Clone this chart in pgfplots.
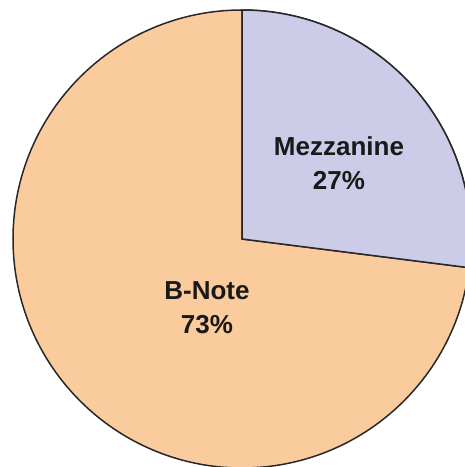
\documentclass[border=0pt]{standalone}
\usepackage{pgfplots}
\usepackage{pgfplotstable}
\pgfplotsset{compat=1.18}
\usepackage{fontspec}
\setmainfont{Liberation Sans}
\definecolor{mezz}{RGB}{204,204,232}
\definecolor{bnote}{RGB}{250,203,156}
\definecolor{edge}{RGB}{40,40,40}
\pgfplotstableread{
label value
Mezzanine 27
B-Note 73
}\piedata
\begin{document}
\begin{tikzpicture}
\pgfplotstablegetelem{0}{value}\of\piedata
\pgfmathsetmacro\angA{90-3.6*\pgfplotsretval}
\begin{axis}[
  scale only axis, width=465pt, height=467pt,
  xmin=-242, xmax=223, ymin=-228, ymax=239,
  hide axis, clip=true]
\filldraw[fill=bnote, draw=edge, line width=1.5pt] (axis cs:0,0) -- (axis cs:0,229) arc[start angle=90, end angle=\angA-360, radius=229pt] -- cycle;
\filldraw[fill=mezz, draw=edge, line width=1.5pt] (axis cs:0,0) -- (axis cs:0,229) arc[start angle=90, end angle=\angA, radius=229pt] -- cycle;
\node[align=center, font=\fontsize{26}{34}\selectfont\bfseries, text=black!90] at (axis cs:97,76) {Mezzanine\\27\%};
\node[align=center, font=\fontsize{26}{34}\selectfont\bfseries, text=black!90] at (axis cs:-35,-69) {B-Note\\73\%};
\end{axis}
\pgfresetboundingbox
\path[use as bounding box] (current axis.south west) rectangle (current axis.north east);
\end{tikzpicture}
\end{document}
